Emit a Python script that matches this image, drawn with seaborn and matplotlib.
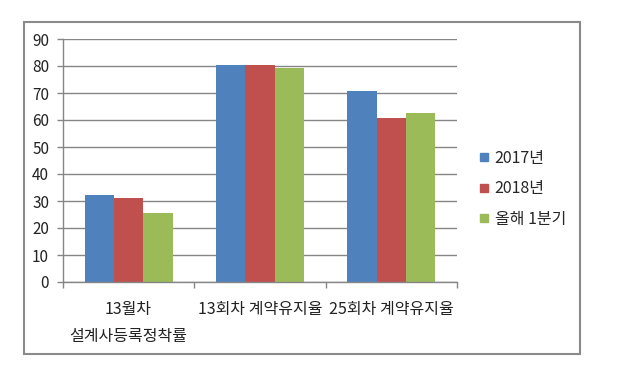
import matplotlib
matplotlib.use("Agg")
import matplotlib.pyplot as plt
import seaborn as sns
import pandas as pd
from matplotlib.patches import Rectangle
from matplotlib.lines import Line2D

categories = ["13월차\n설계사등록정착률", "13회차 계약유지율", "25회차 계약유지율"]
series = ["2017년", "2018년", "올해 1분기"]
v2017 = [32.2, 80.4, 70.7]
v2018 = [31.0, 80.4, 60.7]
vQ1 = [25.7, 79.4, 62.7]
yticks = [0, 10, 20, 30, 40, 50, 60, 70, 80, 90]
colors = ["#4F81BD", "#C0504D", "#9BBB59"]

rows = []
for s, vals in zip(series, [v2017, v2018, vQ1]):
    for c, v in zip(categories, vals):
        rows.append({"cat": c, "series": s, "value": v})
df = pd.DataFrame(rows)

sns.set_theme(style="white")
plt.rcParams["font.family"] = ["Noto Sans CJK KR", "DejaVu Sans"]

fig = plt.figure(figsize=(6.4, 3.86), dpi=100)
ax = fig.add_axes([63/640, 1-282/386, (457-63)/640, (282-39)/386])

sns.barplot(data=df, x="cat", y="value", hue="series", order=categories,
            hue_order=series, palette=colors, width=0.67, gap=0,
            saturation=1, ax=ax, legend=False, errorbar=None, linewidth=0)

ax.set_ylim(0, 90)
ax.set_xlim(-0.5, 2.5)
ax.set_yticks(yticks)
ax.set_yticklabels([str(t) for t in yticks], fontsize=11, color="#222222")
ax.yaxis.grid(True, color="#868686", linewidth=1)
ax.set_axisbelow(True)
ax.set_xlabel("")
ax.set_ylabel("")
ax.set_xticks(range(len(categories)))
ax.set_xticklabels(categories, fontsize=11.5, color="#222222", linespacing=1.75)
ax.tick_params(axis="x", which="major", length=0, pad=14)
ax.set_xticks([-0.5, 0.5, 1.5, 2.5], minor=True)
ax.tick_params(axis="x", which="minor", length=4, color="#868686", width=1, bottom=True)
ax.tick_params(axis="y", length=4, color="#868686", width=1, left=True, pad=6)
for side in ["top", "right"]:
    ax.spines[side].set_visible(False)
for side in ["left", "bottom"]:
    ax.spines[side].set_color("#868686")
    ax.spines[side].set_linewidth(1)

handles = [Line2D([0], [0], marker="s", linestyle="", markersize=6,
                  markerfacecolor=c, markeredgecolor=c) for c in colors]
fig.legend(handles, series, loc="center left",
           bbox_to_anchor=(474/640, 1-189/386), frameon=False,
           fontsize=11.5, handlelength=0.5, handletextpad=0.4,
           labelspacing=0.85, borderaxespad=0)

fig.patches.append(Rectangle((24/640, 1-354/386), 556/640, 332/386,
                             transform=fig.transFigure, fill=False,
                             edgecolor="#8a8a8a", linewidth=1.5))

fig.savefig("out.png", dpi=100)
